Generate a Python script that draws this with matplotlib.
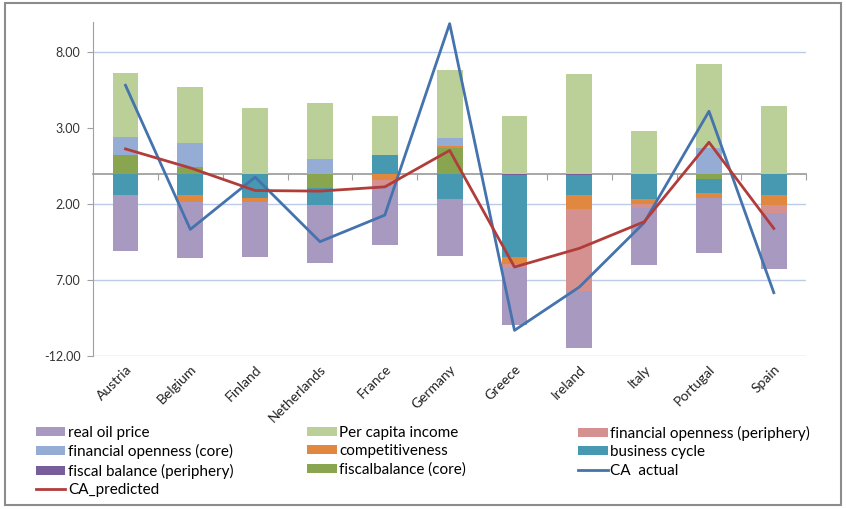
import matplotlib.pyplot as plt
import matplotlib.patches as mpatches
import numpy as np

plt.rcParams['font.family'] = ['Lato', 'DejaVu Sans']

countries = ['Austria', 'Belgium', 'Finland', 'Netherlands', 'France', 'Germany',
             'Greece', 'Ireland', 'Italy', 'Portugal', 'Spain']

# contributions to the current account, per country
real_oil = [-3.68, -3.68, -3.62, -3.77, -3.95, -3.77, -3.77, -3.77, -3.79, -3.62, -3.73]
per_capita = [4.21, 3.71, 4.32, 3.68, 2.54, 4.45, 3.79, 6.60, 2.81, 5.55, 4.47]
fin_periph = [0, 0, 0, 0, -0.33, 0, -0.22, -5.37, -0.26, 0, -0.52]
fin_core = [1.18, 1.60, 0, 0.96, 0, 0.55, 0, 0, 0, 1.71, 0]
competitiveness = [0, -0.44, -0.26, 0, -0.44, 0.15, -0.50, -0.94, -0.29, -0.37, -0.66]
business_cycle = [-1.40, -1.40, -1.58, -1.16, 1.27, -1.64, -5.35, -1.29, -1.69, -0.94, -1.38]
fiscal_periph = [0, 0, 0, 0, 0, 0, -0.11, -0.11, 0, 0, 0]
fiscal_core = [1.27, 0.44, 0, -0.92, 0, 1.67, 0, 0, 0, -0.31, 0]

ca_actual = [5.83, -3.66, -0.22, -4.47, -2.72, 9.89, -10.31, -7.46, -3.22, 4.12, -7.83]
ca_predicted = [1.64, 0.39, -1.10, -1.14, -0.86, 1.54, -6.14, -4.91, -3.16, 2.08, -3.60]

ytick_values = [8, 3, -2, -7, -12]
ytick_labels = ['8.00', '3.00', '2.00', '7.00', '-12.00']

# stacked from the zero line outwards in this order
components = [
    ('fiscalbalance (core)', fiscal_core, '#8aa550'),
    ('fiscal balance (periphery)', fiscal_periph, '#775d99'),
    ('business cycle', business_cycle, '#4699b0'),
    ('competitiveness', competitiveness, '#e0883f'),
    ('financial openness (core)', fin_core, '#95acd4'),
    ('financial openness (periphery)', fin_periph, '#d49190'),
    ('Per capita income', per_capita, '#bbcf98'),
    ('real oil price', real_oil, '#a899c0'),
]

fig = plt.figure(figsize=(8.46, 5.09), dpi=100)
ax = fig.add_axes([0.110, 0.3006, 0.843, 0.6562])

x = np.arange(len(countries))
pos_base = np.zeros(len(countries))
neg_base = np.zeros(len(countries))
handles = {}
for name, vals, color in components:
    v = np.array(vals, dtype=float)
    pos = np.where(v > 0, v, 0)
    neg = np.where(v < 0, v, 0)
    b = ax.bar(x, pos, 0.4, bottom=pos_base, color=color, linewidth=0, zorder=2)
    ax.bar(x, neg, 0.4, bottom=neg_base, color=color, linewidth=0, zorder=2)
    pos_base += pos
    neg_base += neg
    handles[name] = b

l_act, = ax.plot(x, ca_actual, color='#4473ad', lw=2.0, zorder=4)
l_pred, = ax.plot(x, ca_predicted, color='#b13d3b', lw=2.0, zorder=5)
handles['CA  actual'] = l_act
handles['CA_predicted'] = l_pred

ymin, ymax = -12, 10
ax.set_xlim(-0.5, len(countries) - 0.5)
ax.set_ylim(ymin, ymax)
ax.set_yticks(ytick_values)
ax.set_yticklabels(ytick_labels)
ax.yaxis.grid(True, color='#bccbe8', lw=1.0, zorder=0)
ax.yaxis.get_gridlines()[1].set_visible(False)
ax.tick_params(axis='y', length=4, color='#a0a0a0', labelsize=9,
               labelcolor='#333333', pad=5)

for s in ['top', 'right', 'bottom']:
    ax.spines[s].set_visible(False)
ax.spines['left'].set_color('#a0a0a0')

ax.set_xticks(x)
ax.set_xticklabels(countries, rotation=45, ha='right', rotation_mode='anchor',
                   fontsize=10, color='#222222')
ax.tick_params(axis='x', length=0, pad=5)

# category axis crosses at zero, with tick marks between countries
zero = ax.secondary_xaxis((0 - ymin) / (ymax - ymin))
zero.set_xticks(np.arange(-0.5, len(countries), 1), labels=[])
zero.xaxis.set_ticks_position('bottom')
zero.tick_params(length=4, color='#a0a0a0', direction='out',
                 labelbottom=False, labeltop=False)
for sp in zero.spines.values():
    sp.set_color('#a0a0a0')
    sp.set_linewidth(1.3)

legend_cols = [
    (0.042, ['real oil price', 'financial openness (core)',
             'fiscal balance (periphery)', 'CA_predicted']),
    (0.363, ['Per capita income', 'competitiveness', 'fiscalbalance (core)']),
    (0.683, ['financial openness (periphery)', 'business cycle', 'CA  actual']),
]
for xpos, names in legend_cols:
    fig.legend([handles[n] for n in names], names, loc='upper left',
               bbox_to_anchor=(xpos, 0.1637), frameon=False, fontsize=11,
               handlelength=1.96, handleheight=0.5, handletextpad=0.15,
               labelspacing=0.29, borderpad=0, borderaxespad=0)

fig.patches.append(mpatches.Rectangle((0.006, 0.008), 0.988, 0.986,
                                      transform=fig.transFigure, fill=False,
                                      edgecolor='#8c8c8c', lw=1.5))

fig.savefig('out.png', dpi=100)
